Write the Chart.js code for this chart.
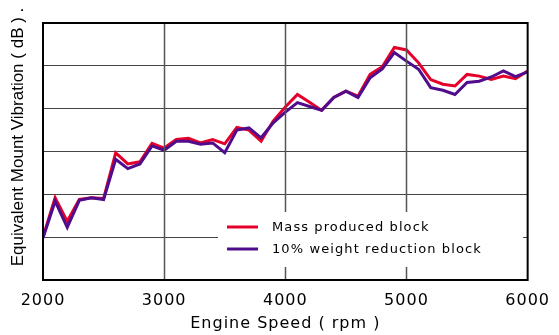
<!DOCTYPE html>
<html>
<head>
<meta charset="utf-8">
<script src="https://cdn.jsdelivr.net/npm/chart.js@4/dist/chart.umd.min.js"></script>
<style>
  html, body { margin: 0; padding: 0; background: #fff; }
  #wrap { width: 559px; height: 335px; }
</style>
</head>
<body>
<div id="wrap"><canvas id="chart"></canvas></div>
<script>
// engine speed steps (rpm)
const rpm = [
  2000, 2100, 2200, 2300, 2400, 2500, 2600, 2700, 2800, 2900,
  3000, 3100, 3200, 3300, 3400, 3500, 3600, 3700, 3800, 3900,
  4000, 4100, 4200, 4300, 4400, 4500, 4600, 4700, 4800, 4900,
  5000, 5100, 5200, 5300, 5400, 5500, 5600, 5700, 5800, 5900,
  6000
];

// mount vibration, one grid division per unit
const massProduced = [
  1.00, 1.92, 1.37, 1.88, 1.92, 1.90, 2.97, 2.71, 2.76, 3.19,
  3.08, 3.28, 3.31, 3.20, 3.28, 3.18, 3.56, 3.50, 3.24, 3.71,
  4.04, 4.33, 4.15, 3.96, 4.26, 4.41, 4.29, 4.80, 4.98, 5.43,
  5.37, 5.07, 4.68, 4.57, 4.53, 4.80, 4.76, 4.68, 4.76, 4.70,
  4.88
];

const weightReduced = [
  0.98, 1.84, 1.23, 1.86, 1.92, 1.88, 2.82, 2.60, 2.71, 3.13,
  3.03, 3.24, 3.24, 3.17, 3.20, 2.97, 3.50, 3.55, 3.32, 3.67,
  3.92, 4.14, 4.05, 3.96, 4.26, 4.41, 4.26, 4.72, 4.93, 5.31,
  5.11, 4.92, 4.49, 4.43, 4.33, 4.61, 4.64, 4.74, 4.88, 4.75,
  4.86
];

const speedGrid = [3000, 4000, 5000];
const seriesNames = ["Mass produced block", "10% weight reduction block"];
const seriesColors = ["#e4002b", "#4f0c8c"];

const toPoints = (vals) => vals.map((v, i) => ({ x: rpm[i], y: v }));

// speed grid, legend box, frame and vertical axis title
const decorations = {
  id: "decorations",
  beforeDraw(chart) {
    chart.ctx.letterSpacing = "1px";
  },
  afterDraw(chart) {
    const { ctx, chartArea: a, scales } = chart;
    ctx.save();

    // vertical grid at each 1000 rpm
    ctx.strokeStyle = "#555";
    ctx.lineWidth = 1.5;
    speedGrid.forEach((v) => {
      const px = Math.round(scales.x.getPixelForValue(v)) + 0.5;
      ctx.beginPath();
      ctx.moveTo(px, a.top);
      ctx.lineTo(px, a.bottom);
      ctx.stroke();
    });

    // legend panel sits inside the plot, over the grid
    ctx.fillStyle = "#fff";
    ctx.fillRect(218, 212, 305, 55);
    ctx.letterSpacing = "1.1px";
    ctx.font = "13px 'DejaVu Sans'";
    ctx.textBaseline = "middle";
    ctx.textAlign = "left";
    chart.data.datasets.forEach((ds, i) => {
      const y = 227 + i * 22;
      ctx.strokeStyle = ds.borderColor;
      ctx.lineWidth = 3;
      ctx.beginPath();
      ctx.moveTo(227, y);
      ctx.lineTo(258, y);
      ctx.stroke();
      ctx.fillStyle = "#000";
      ctx.fillText(ds.label, 272, y + 0.5);
    });

    // plot frame
    ctx.strokeStyle = "#000";
    ctx.lineWidth = 2;
    ctx.strokeRect(a.left, a.top, a.right - a.left, a.bottom - a.top);

    // y axis title
    ctx.letterSpacing = "0px";
    ctx.translate(18, 137);
    ctx.rotate(-Math.PI / 2);
    ctx.font = "17px 'Liberation Sans'";
    ctx.textAlign = "center";
    ctx.textBaseline = "middle";
    ctx.fillStyle = "#000";
    ctx.fillText("Equivalent Mount Vibration ( dB ) .", 0, 0);
    ctx.restore();
  },
};

new Chart(document.getElementById("chart"), {
  type: "line",
  data: {
    datasets: [
      {
        label: seriesNames[0],
        data: toPoints(massProduced),
        borderColor: seriesColors[0],
        borderWidth: 3,
        pointRadius: 0,
        tension: 0,
        order: 1,
      },
      {
        label: seriesNames[1],
        data: toPoints(weightReduced),
        borderColor: seriesColors[1],
        borderWidth: 3,
        pointRadius: 0,
        tension: 0,
        order: 0,
      },
    ],
  },
  options: {
    responsive: true,
    maintainAspectRatio: false,
    animation: false,
    layout: { padding: { top: 23, right: 24, left: 0, bottom: 0 } },
    plugins: {
      legend: { display: false },
      tooltip: { enabled: false },
    },
    scales: {
      x: {
        type: "linear",
        min: 2000,
        max: 6000,
        afterFit: (s) => {
          s.height = 55;
        },
        ticks: {
          stepSize: 1000,
          color: "#000",
          padding: 11,
          maxRotation: 0,
          font: { family: "'DejaVu Sans'", size: 16 },
          callback: (v) => String(v),
        },
        grid: { color: "#555", lineWidth: 1, drawTicks: false },
        border: { color: "#000", width: 2 },
        title: {
          display: true,
          text: "Engine Speed ( rpm )",
          color: "#000",
          font: { family: "'DejaVu Sans'", size: 16 },
          padding: { top: 0, bottom: 2 },
        },
      },
      y: {
        min: 0,
        max: 6,
        ticks: { display: false, stepSize: 1 },
        afterFit: (s) => {
          s.width = 43;
        },
        grid: { color: "#444", lineWidth: 1, drawTicks: false },
        border: { color: "#000", width: 2 },
      },
    },
  },
  plugins: [decorations],
});
</script>
</body>
</html>
